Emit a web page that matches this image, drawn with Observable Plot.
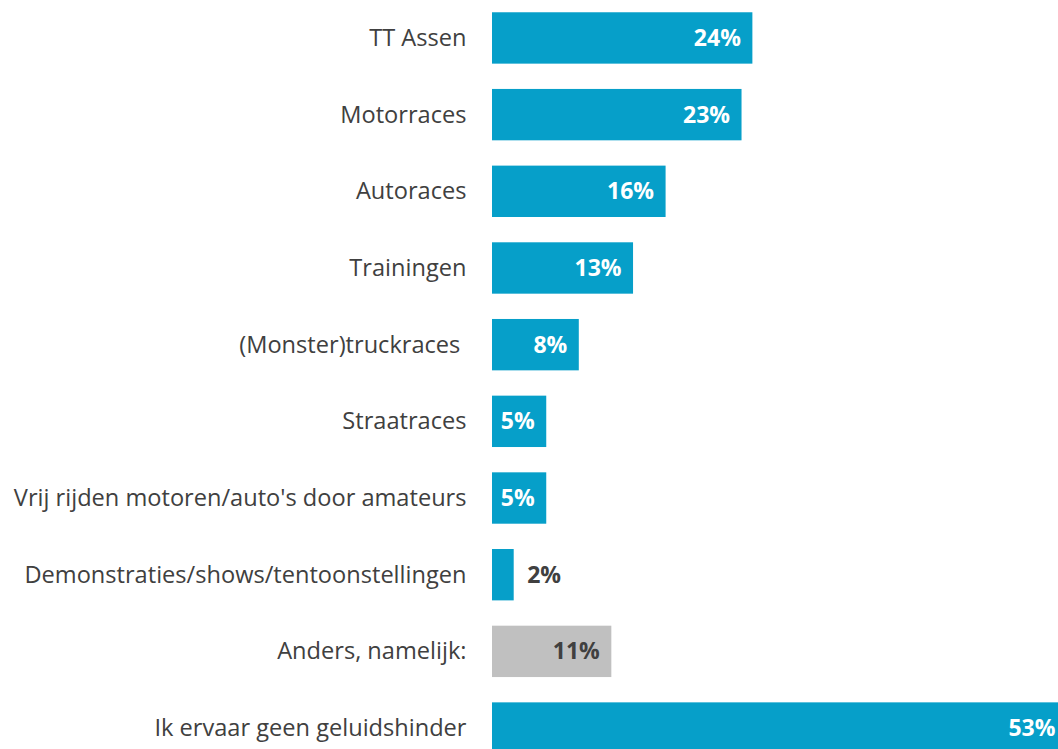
<!DOCTYPE html>
<html>
<head>
<meta charset="utf-8">
<script src="https://cdn.jsdelivr.net/npm/d3@7"></script>
<script src="https://cdn.jsdelivr.net/npm/@observablehq/plot@0.6"></script>
<style>
html, body { margin: 0; padding: 0; background: #fff; overflow: hidden; width: 1058px; height: 749px; }
#chart svg { display: block; }
</style>
</head>
<body>
<div id="chart"></div>
<script>
const categories = [
  "TT Assen",
  "Motorraces",
  "Autoraces",
  "Trainingen",
  "(Monster)truckraces\u00a0",
  "Straatraces",
  "Vrij rijden motoren/auto's door amateurs",
  "Demonstraties/shows/tentoonstellingen",
  "Anders, namelijk:",
  "Ik ervaar geen geluidshinder"
];
const values = [24, 23, 16, 13, 8, 5, 5, 2, 11, 53];
const groups = ["main","main","main","main","main","main","main","main","other","main"];

const data = categories.map((c, i) => ({category: c, value: values[i], group: groups[i]}));

const blue = "#069fc9";
const grey = "#c0c0c0";
const textDark = "#404040";
const font = "Open Sans, sans-serif";

const chart = Plot.plot({
  width: 1058,
  height: 749,
  marginLeft: 492, marginRight: 0, marginTop: 0, marginBottom: 0,
  style: {fontFamily: font, background: "#fff"},
  x: {domain: [0, 53], range: [492, 1067], axis: null},
  y: {domain: categories, range: [0, 766], paddingInner: 0.33, paddingOuter: 0.16, round: false, label: null},
  color: {domain: ["main", "other"], range: [blue, grey]},
  marks: [
    Plot.barX(data, {x: "value", y: "category", fill: "group"}),
    Plot.axisY({tickSize: 0, tickPadding: 26, fontSize: 23.6, fill: textDark, label: null, textAnchor: "end"}),
    Plot.text(data.filter(d => d.value >= 5 && d.group === "main"), {
      x: "value", y: "category", text: d => d.value + "%",
      textAnchor: "end", dx: -12, fill: "white", fontWeight: "bold", fontSize: 23
    }),
    Plot.text(data.filter(d => d.group === "other"), {
      x: "value", y: "category", text: d => d.value + "%",
      textAnchor: "end", dx: -12, fill: textDark, fontWeight: "bold", fontSize: 23
    }),
    Plot.text(data.filter(d => d.value < 5), {
      x: "value", y: "category", text: d => d.value + "%",
      textAnchor: "start", dx: 13, fill: textDark, fontWeight: "bold", fontSize: 23
    })
  ]
});
document.getElementById("chart").append(chart);
</script>
</body>
</html>
